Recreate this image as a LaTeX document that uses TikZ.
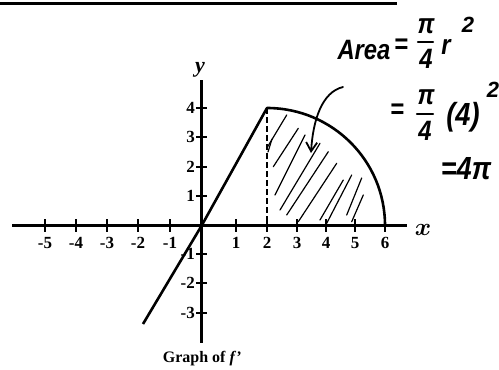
\documentclass[tikz,border=0pt]{standalone}
\usepackage{fontspec}
\setmainfont{Liberation Serif}
\newfontfamily\hand{Liberation Sans}
\usetikzlibrary{arrows.meta}
\begin{document}
\begin{tikzpicture}[x=1pt,y=-1pt,
  axis/.style={line width=2.6pt},
  plotline/.style={line width=2.6pt},
  tickmark/.style={line width=1.8pt},
  ticklbl/.style={font=\bfseries\fontsize{17}{17}\selectfont, inner sep=0pt},
  hw/.style={font=\hand\bfseries\itshape\fontsize{28}{28}\selectfont, inner sep=0pt, xscale=0.85},
  hwsmall/.style={font=\hand\bfseries\itshape\fontsize{22}{22}\selectfont, inner sep=0pt},
  hwbar/.style={line width=2.4pt, line cap=round},
  hatch/.style={line width=1.2pt, line cap=round},
]
\useasboundingbox (0,0) rectangle (499,370);
% top rule
\coordinate (rl) at (0,3);
\coordinate (rr) at (397,3);
\draw[line width=3pt] (rl) -- (rr);
% axes
\coordinate (O) at (201.7,225.5);
\coordinate (xa) at (12,225.5);
\coordinate (xb) at (407,225.5);
\coordinate (ya) at (201.7,80);
\coordinate (yb) at (201.7,343);
\draw[axis] (xa) -- (xb);
\draw[axis] (ya) -- (yb);
\foreach \v/\p in {-5/45,-4/76,-3/107,-2/138,-1/170,1/236,2/267,3/297,4/326,5/355,6/385}{
  \coordinate (xt\p a) at (\p,219);
  \coordinate (xt\p b) at (\p,232);
  \draw[tickmark] (xt\p a) -- (xt\p b);
  \node[ticklbl] (xl\p) at (\p,243) {\v};
}
\foreach \v/\p in {4/108,3/137,2/167,1/196,-1/254,-2/283,-3/313}{
  \coordinate (yt\p a) at (196,\p);
  \coordinate (yt\p b) at (207,\p);
  \draw[tickmark] (yt\p a) -- (yt\p b);
  \node[ticklbl,anchor=east] (yl\p) at (195,\p) {\v};
}
\node[font=\bfseries\itshape\fontsize{22}{22}\selectfont, inner sep=0pt] (ylab) at (200,70) {y};
\node[font=\fontsize{28}{28}\selectfont\boldmath, inner sep=0pt] (xlab) at (423,230) {\(x\)};
\node[font=\bfseries\fontsize{16}{16}\selectfont, inner sep=0pt] (cap) at (202,359) {Graph of \textit{f\kern1pt\char"2019}};
% graph of f'
\coordinate (lo) at (143,324);
\coordinate (pk) at (267,108);
\coordinate (end) at (385,225.5);
\coordinate (foot) at (267,225.5);
\draw[plotline, line join=round] (lo) -- (O) -- (pk)
  arc[start angle=-90,end angle=0,x radius=118,y radius=117.5];
\draw[line width=1.5pt, dash pattern=on 6pt off 3pt] (pk) -- (foot);
% hatching
\foreach \a/\b/\c/\d in {
  286.7/115/266.7/148.3,
  298.3/128.3/273.3/166.7,
  305/135/275/195,
  320/143.3/280/210,
  328.3/151.7/286.7/215,
  336.7/163.3/298.3/221.7,
  343.3/180/320/220,
  351.7/175/326.7/223.3,
  361.7/178/346.7/215,
  363.3/195/351.7/221.7,
  272/139/268/152}{
  \coordinate (h1) at (\a,\b);
  \coordinate (h2) at (\c,\d);
  \draw[hatch] (h1) -- (h2);
}
% arrow
\coordinate (as) at (343,87);
\coordinate (ae) at (311,153);
\draw[line width=1.8pt, line cap=round, -{Straight Barb[length=9pt,width=11pt]}] (as) .. controls (322,92) and (313,120) .. (ae);
% handwriting
\node[hw] (area) at (364,50) {Area};
\node[hw] (eq1) at (401,46) {=};
\node[hw] (pi1) at (426,26) {π};
\coordinate (b1a) at (418,42);
\coordinate (b1b) at (433,42);
\draw[hwbar] (b1a) -- (b1b);
\node[hw] (four1) at (426,59) {4};
\node[hw] (r1) at (446,47) {r};
\node[hwsmall] (sq1) at (468,25) {2};
\node[hw] (eq2) at (397,111) {=};
\node[hw] (pi2) at (426,97) {π};
\coordinate (b2a) at (417,114);
\coordinate (b2b) at (433,114);
\draw[hwbar] (b2a) -- (b2b);
\node[hw] (four2) at (425,131) {4};
\node[hw, font=\hand\bfseries\itshape\fontsize{32}{32}\selectfont] (paren) at (463,117) {(4)};
\node[hwsmall] (sq2) at (493,90) {2};
\node[hw, font=\hand\bfseries\itshape\fontsize{32}{32}\selectfont] (res) at (466,169) {=4π};
\end{tikzpicture}
\end{document}
